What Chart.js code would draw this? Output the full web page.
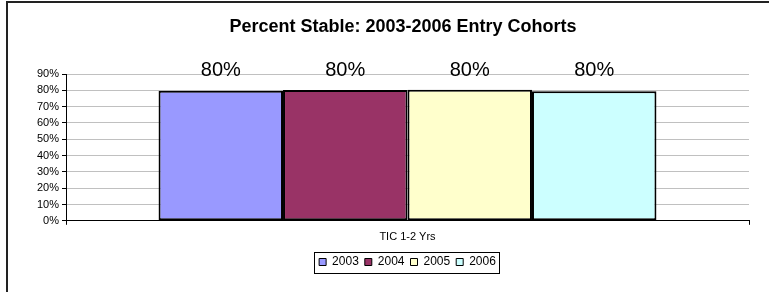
<!DOCTYPE html>
<html><head><meta charset="utf-8">
<script src="https://cdn.jsdelivr.net/npm/chart.js@4"></script>
<style>html,body{margin:0;padding:0;background:#fff}#wrap{position:relative;width:769px;height:292px}</style>
</head><body><div id="wrap"><canvas id="c" width="769" height="292"></canvas></div>
<script>
const categories = ['TIC 1-2 Yrs'];
const seriesNames = ['2003', '2004', '2005', '2006'];
const seriesValues = [[0.797], [0.802], [0.803], [0.795]];
const seriesColors = ['#9999FF', '#993366', '#FFFFCC', '#CCFFFF'];
const yTicks = [0, 0.1, 0.2, 0.3, 0.4, 0.5, 0.6, 0.7, 0.8, 0.9];
const titleText = 'Percent Stable: 2003-2006 Entry Cohorts';

const FONT = 'Arial, "Liberation Sans", sans-serif';

const framePlugin = {
  id: 'frame',
  beforeDraw(chart) {
    const ctx = chart.ctx;
    ctx.save();
    ctx.fillStyle = '#fff';
    ctx.fillRect(0, 0, chart.width, chart.height);
    ctx.strokeStyle = '#222';
    ctx.lineWidth = 2;
    ctx.beginPath();
    ctx.moveTo(7, chart.height);
    ctx.lineTo(7, 2);
    ctx.lineTo(chart.width, 2);
    ctx.stroke();
    // title
    ctx.fillStyle = '#000';
    ctx.font = 'bold 18px ' + FONT;
    ctx.textAlign = 'center';
    ctx.textBaseline = 'alphabetic';
    ctx.fillText(titleText, 403, 32);
    ctx.restore();
  },
  afterDraw(chart) {
    const lg = chart.legend;
    if (!lg) return;
    const ctx = chart.ctx;
    ctx.save();
    ctx.strokeStyle = '#000';
    ctx.lineWidth = 1;
    const boxes = lg.legendHitBoxes;
    const l = Math.min(...boxes.map(b => b.left)) - 5;
    const r = Math.max(...boxes.map(b => b.left + b.width)) + 3;
    const cy = boxes[0].top + boxes[0].height / 2;
    ctx.strokeRect(Math.round(l) + 0.5, Math.round(cy - 10.5) + 0.5, Math.round(r - l), 21);
    ctx.restore();
  }
};

const labelPlugin = {
  id: 'barLabels',
  afterDatasetsDraw(chart) {
    const ctx = chart.ctx;
    ctx.save();
    ctx.font = '20px ' + FONT;
    ctx.fillStyle = '#000';
    ctx.textAlign = 'center';
    ctx.textBaseline = 'alphabetic';
    chart.data.datasets.forEach((ds, i) => {
      const meta = chart.getDatasetMeta(i);
      meta.data.forEach((bar, j) => {
        const v = ds.data[j];
        ctx.fillText(Math.round(v * 100) + '%', bar.x, 76);
      });
    });
    ctx.restore();
  }
};

new Chart(document.getElementById('c'), {
  type: 'bar',
  data: {
    labels: categories,
    datasets: seriesNames.map((n, i) => ({
      label: n,
      data: seriesValues[i],
      backgroundColor: seriesColors[i],
      borderColor: '#000',
      borderWidth: 2,
      borderSkipped: false,
      categoryPercentage: 0.729,
      barPercentage: 1.0
    }))
  },
  options: {
    responsive: false,
    animation: false,
    layout: { padding: { left: 0, right: 20, top: 74, bottom: 14 } },
    plugins: {
      title: { display: false },
      legend: {
        position: 'bottom',
        fullSize: false,
        labels: {
          color: '#000',
          font: { family: FONT, size: 12 },
          boxWidth: 7,
          boxHeight: 7,
          padding: 6,
          generateLabels(chart) {
            return chart.data.datasets.map((ds, i) => ({
              text: ds.label,
              fillStyle: ds.backgroundColor,
              strokeStyle: '#000',
              lineWidth: 1,
              datasetIndex: i,
              fontColor: '#000'
            }));
          }
        }
      },
      tooltip: { enabled: false }
    },
    scales: {
      x: {
        offset: true,
        grid: { display: true, drawOnChartArea: false, drawTicks: true, tickLength: 4, color: '#000', offset: true },
        border: { color: '#000', width: 1 },
        ticks: { color: '#000', font: { family: FONT, size: 11 }, padding: 6 }
      },
      y: {
        min: 0,
        max: 0.9,
        afterBuildTicks(scale) { scale.ticks = yTicks.map(v => ({ value: v })); },
        afterFit(scale) { scale.width = 66; },
        grid: { color: '#c0c0c0', tickColor: '#000', tickLength: 4, lineWidth: 1 },
        border: { color: '#000', width: 1 },
        ticks: {
          color: '#000',
          font: { family: FONT, size: 11 },
          padding: 3,
          callback: v => Math.round(v * 100) + '%'
        }
      }
    }
  },
  plugins: [framePlugin, labelPlugin]
});
</script></body></html>
